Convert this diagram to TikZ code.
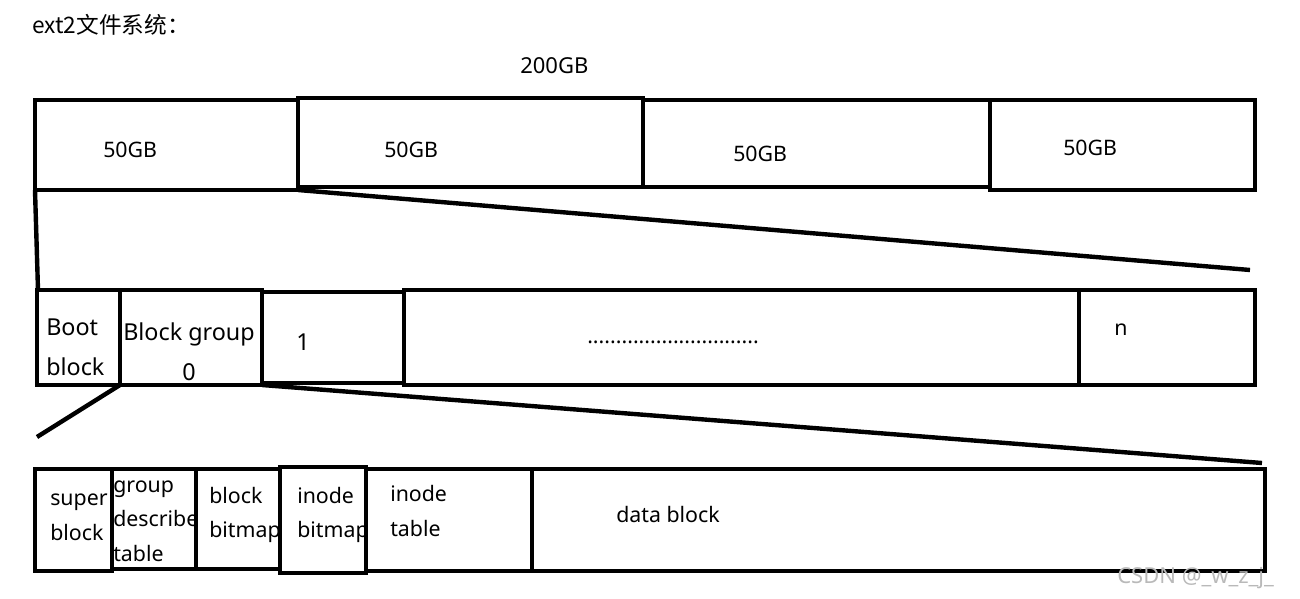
\documentclass[tikz,border=0pt]{standalone}
\usepackage{fontspec}
\setmainfont{Noto Sans}
\newfontfamily\cjk{Noto Sans CJK SC}
\begin{document}
\begin{tikzpicture}[x=0.75pt,y=-0.75pt,
  font=\fontsize{16}{26}\selectfont,
  cell/.style={draw,line width=3.3pt},
  zoom line/.style={line width=3.3pt},
  lbl/.style={inner sep=0pt,anchor=west,align=left},
  big lbl/.style={lbl,font=\fontsize{17.5}{30}\selectfont}]
\useasboundingbox (0,0) rectangle (1300,599);
% title
\node[lbl,font=\cjk\fontsize{17}{20}\selectfont] (title) at (32,25) {ext2文件系统：};
\node[lbl,font=\fontsize{16.5}{20}\selectfont] (total) at (520,66) {200GB};
% partitions
\draw[cell] (35,100) rectangle (298,190);
\draw[cell] (298,98) rectangle (643,187);
\draw[cell] (643,100) rectangle (990,187);
\draw[cell] (990,100) rectangle (1255,190);
\node[lbl] (part1) at (103,150) {50GB};
\node[lbl] (part2) at (384,150) {50GB};
\node[lbl] (part3) at (733,154) {50GB};
\node[lbl] (part4) at (1063,148) {50GB};
% block groups
\draw[cell] (37,290) rectangle (120,385);
\draw[cell] (120,290) rectangle (262,385);
\draw[cell] (262,292) rectangle (404,383);
\draw[cell] (404,290) rectangle (1079,385);
\draw[cell] (1079,290) rectangle (1255,385);
\node[big lbl] (boot) at (46,347) {Boot\\block};
\node[big lbl,align=center] (bg0) at (123,352) {Block group\\0};
\node[big lbl] (bg1) at (296,342) {1};
\node[lbl] (dots) at (587,342) {..............................};
\node[lbl] (bgn) at (1114,330) {n};
% inside one block group
\draw[cell] (35,469) rectangle (112,571);
\draw[cell] (112,469) rectangle (196,569);
\draw[cell] (196,469) rectangle (280,569);
\draw[cell] (280,467) rectangle (366,573);
\draw[cell] (366,469) rectangle (532,571);
\draw[cell] (532,469) rectangle (1265,571);
\node[lbl] (sb) at (50,517) {super\\block};
\node[lbl] (gdt) at (113,521) {group\\describe\\table};
\node[lbl] (bbm) at (209,515) {block\\bitmap};
\node[lbl] (ibm) at (297,515) {inode\\bitmap};
\node[lbl] (itab) at (390,511) {inode\\table};
\node[lbl] (data) at (616,514) {data block};
% zoom lines
\coordinate (za) at (35,190);
\coordinate (zb) at (38,290);
\coordinate (zc) at (298,190);
\coordinate (zd) at (1250,270);
\coordinate (ze) at (120,385);
\coordinate (zf) at (37,437);
\coordinate (zg) at (262,385);
\coordinate (zh) at (1262,463);
\draw[zoom line] (za) -- (zb);
\draw[zoom line] (zc) -- (zd);
\draw[zoom line] (ze) -- (zf);
\draw[zoom line] (zg) -- (zh);
\node[lbl,text=gray!55,font=\fontsize{16.5}{18}\selectfont] (mark) at (1117,578) {CSDN @\_w\_z\_j\_};
\end{tikzpicture}
\end{document}
